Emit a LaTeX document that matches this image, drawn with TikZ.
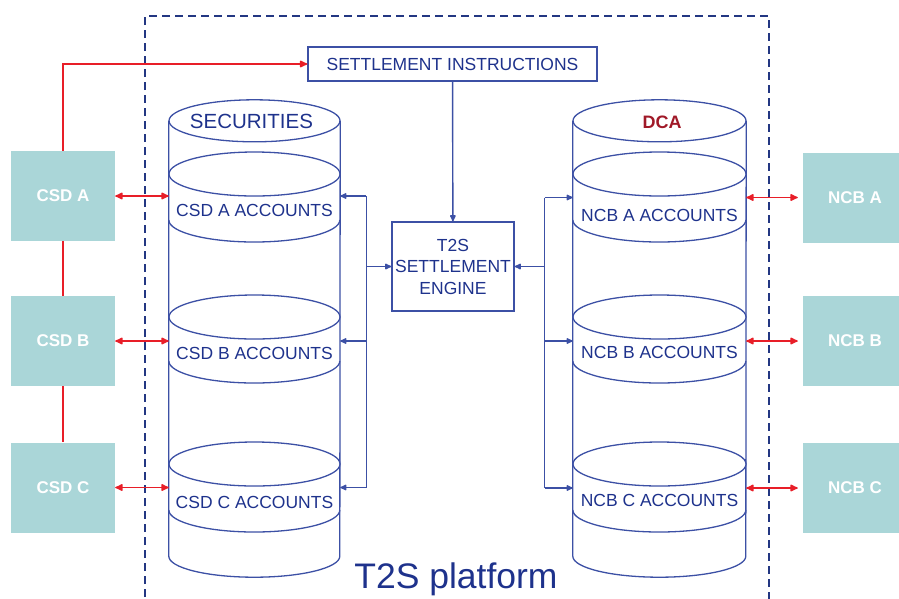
\documentclass[tikz,border=0pt]{standalone}
\usepackage{fontspec}
\setmainfont{Liberation Sans}
\usetikzlibrary{arrows.meta}
\usetikzlibrary{positioning}
\definecolor{t2sblue}{RGB}{60,80,165}
\definecolor{t2stext}{RGB}{30,50,140}
\definecolor{t2sframe}{RGB}{35,55,130}
\definecolor{t2sred}{RGB}{232,30,40}
\definecolor{t2steal}{RGB}{170,214,216}
\definecolor{dcared}{RGB}{160,25,40}
\tikzstyle{csd} = [rectangle, fill=t2steal, text=white, font=\fontsize{17}{20}\selectfont\bfseries, minimum width=104pt, minimum height=90pt, inner sep=0pt]
\tikzstyle{action} = [rectangle, text centered, draw=t2sblue, line width=1.3pt, text=t2stext, inner sep=0pt]
\tikzstyle{cylinder_body} = [rectangle, draw=none, inner sep=0pt]
\tikzstyle{account} = [text=t2stext, inner sep=0pt]
\tikzstyle{red_message} = [t2sred, line width=1.3pt, ->, >={Latex[length=9pt,width=8pt,round]}]
\tikzstyle{red_exchange} = [t2sred, line width=1.3pt, <->, >={Latex[length=9pt,width=8pt,round]}]
\tikzstyle{red_link} = [t2sred, line width=1.2pt]
\tikzstyle{bus_step} = [t2sblue, line width=1.4pt, ->, >={Latex[length=8pt,width=7pt,round]}]
\tikzstyle{bus_line} = [t2sblue, line width=1.4pt]
\tikzstyle{cyl_line} = [t2sblue, line width=1.3pt]
\tikzstyle{platform} = [t2sframe, line width=1.8pt, dash pattern=on 8pt off 5pt]
\begin{document}
\begin{tikzpicture}[x=1pt, y=-1pt, every node/.style={font=\fontsize{17.5}{21.5}\selectfont}]

    \clip (0,0) rectangle (899,598);

    % T2S platform border
    \draw [platform] (145,610) -- (145,16) -- (769,16) -- (769,610);
    \node (platform_label) [anchor=base, text=t2stext, font=\fontsize{35.5}{40}\selectfont] at (456,588) {T2S platform};

    % CSDs and NCBs
    \node (csdA) [csd] at (63,196) {CSD A};
    \node (csdB) [csd] at (63,341) {CSD B};
    \node (csdC) [csd] at (63,487.5) {CSD C};
    \node (ncbA) [csd] at (855,197.5) {NCB A};
    \node (ncbB) [csd] at (855,341) {NCB B};
    \node (ncbC) [csd] at (855,488) {NCB C};

    \node (instr) [action, minimum width=289pt, minimum height=34pt] at (452.5,64) {SETTLEMENT INSTRUCTIONS};
    \node (engine) [action, minimum width=122pt, minimum height=89pt, align=center] at (453,266.5) {T2S\\SETTLEMENT\\ENGINE};

    % cylinders
    \node (seccyl) [cylinder_body, minimum width=171pt, minimum height=435pt] at (254.5,338.5) {};
    \node (dcacyl) [cylinder_body, minimum width=173pt, minimum height=435pt] at (659.5,338.5) {};
    \foreach \cyl/\rx in {seccyl/85.5, dcacyl/86.5} {
        \draw [cyl_line] (\cyl.north west) -- (\cyl.south west)
            arc [start angle=180, end angle=0, x radius=\rx, y radius=21] -- (\cyl.north east);
        \draw [cyl_line] (\cyl.north) ellipse [x radius=\rx, y radius=21];
        \foreach \top/\low in {174/220, 317/361, 464/510} {
            \draw [cyl_line, fill=white] (\cyl.north |- 0,\top) ellipse [x radius=\rx, y radius=22];
            \draw [cyl_line] (\cyl.west |- 0,\low) arc [start angle=180, end angle=0, x radius=\rx, y radius=22];
        }
    }

    \node (securities) [account, font=\fontsize{20.5}{24}\selectfont] at (251.5,121) {SECURITIES};
    \node (dca) [account, text=dcared, font=\fontsize{18}{22}\selectfont\bfseries] at (662,122) {DCA};
    \node (secA) [account] at (254.5,210) {CSD A ACCOUNTS};
    \node (secB) [account] at (254.5,353) {CSD B ACCOUNTS};
    \node (secC) [account] at (254.5,502) {CSD C ACCOUNTS};
    \node (dcaA) [account] at (659.5,215) {NCB A ACCOUNTS};
    \node (dcaB) [account] at (659.5,352) {NCB B ACCOUNTS};
    \node (dcaC) [account] at (659.5,500) {NCB C ACCOUNTS};

    % red links to the outside
    \draw [red_message] (csdA.north) |- (instr.west);
    \draw [red_link] (csdA.south) -- (csdB.north);
    \draw [red_link] (csdB.south) -- (csdC.north);
    \foreach \n in {csdA, csdB, csdC}
        \draw [red_exchange] (\n.east) -- (seccyl.west |- \n.east);
    \foreach \n in {ncbA, ncbB, ncbC}
        \draw [red_exchange, shorten >=5pt] (dcacyl.east |- \n.west) -- (\n.west);

    % settlement engine
    \draw [bus_step] (instr) -- (engine);
    \coordinate (lbus) at ([xshift=-25pt]engine.west);
    \coordinate (rbus) at ([xshift=30pt]engine.east);
    \draw [bus_step] (lbus) -- (engine.west);
    \draw [bus_step] (rbus) -- (engine.east);
    \draw [bus_line] (lbus |- csdA) -- (lbus |- csdC);
    \draw [bus_line] (rbus |- ncbA) -- (rbus |- ncbC);
    \foreach \n in {csdA, csdB, csdC}
        \draw [bus_step] (lbus |- \n) -- (seccyl.east |- \n);
    \foreach \n in {ncbA, ncbB, ncbC}
        \draw [bus_step] (rbus |- \n) -- (dcacyl.west |- \n);

\end{tikzpicture}
\end{document}
